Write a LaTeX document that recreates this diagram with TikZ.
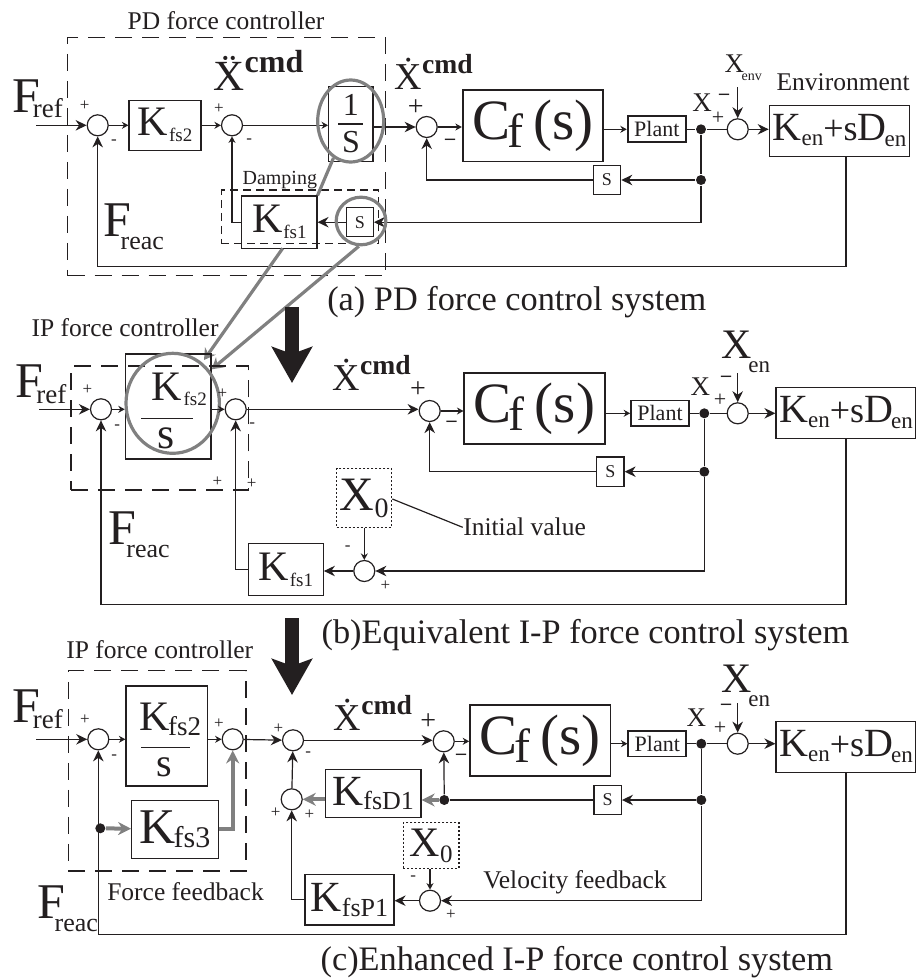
\documentclass[tikz,border=0pt]{standalone}
\usepackage{fontspec}
\setmainfont{Liberation Serif}
\usetikzlibrary{arrows.meta,shapes.geometric}
\definecolor{ink}{RGB}{35,31,32}
\definecolor{gry}{RGB}{128,128,128}
% big letter with a lowered subscript: [kern]{size}{letter}{sub size}{sub}{drop}
\newcommand{\sublab}[6][0pt]{\fontsize{#2}{#2}\selectfont #3\kern#1\raisebox{-#6pt}{\fontsize{#4}{#4}\selectfont #5}}
\newcommand{\cmdlab}[4]{\fontsize{#1}{#1}\selectfont #4{X}\raisebox{#3pt}{\fontsize{#2}{#2}\selectfont\bfseries cmd}}
\newcommand{\cflab}{\fontsize{57}{57}\selectfont C\kern-3pt\raisebox{-8pt}{\fontsize{48}{48}\selectfont f}\kern10pt(s)}
\newcommand{\kenlab}{\sublab{40}{K}{23}{en}{5}{\fontsize{36}{36}\selectfont+s}\sublab[-2pt]{40}{D}{23}{en}{6}}

\begin{document}
\begin{tikzpicture}[x=1pt, y=-1pt, color=ink, line width=1.2pt,
  sumj/.style={circle, draw, fill=white, minimum size=21pt, inner sep=0pt},
  dotj/.style={circle, fill=ink, minimum size=10pt, inner sep=0pt},
  block/.style={draw, inner sep=0pt},
  blockthick/.style={draw, line width=1.7pt, inner sep=0pt},
  ctrlbox/.style={draw, dash pattern=on 17pt off 10pt, inner sep=0pt},
  dampbox/.style={draw, dash pattern=on 8pt off 5pt, inner sep=0pt},
  initbox/.style={draw, dash pattern=on 2pt off 2pt, inner sep=0pt},
  sig/.style={-{Stealth[length=11pt,width=10.5pt]}},
  sigsm/.style={-{Stealth[length=6.5pt,width=7pt]}},
  wire/.style={line width=1.2pt},
  bigdown/.style={-{Stealth[length=36pt,width=40pt,inset=7pt]}, line width=14pt},
  gline/.style={line width=3.2pt, gry},
  garrow/.style={-{Stealth[length=11pt,width=13pt]}, line width=3.2pt, gry},
  gthick/.style={-{Stealth[length=13pt,width=13pt]}, line width=4pt, gry},
  gcirc/.style={ellipse, draw=gry, line width=3.2pt, inner sep=0pt},
  lab/.style={anchor=base west, inner sep=0pt},
  note/.style={lab, font=\fontsize{25.5}{25.5}\selectfont},
  capt/.style={lab, font=\fontsize{34.3}{34.3}\selectfont},
  plussm/.style={inner sep=0pt, font=\fontsize{17}{17}\selectfont},
  plusmd/.style={inner sep=0pt, font=\fontsize{22}{22}\selectfont},
  plusbg/.style={inner sep=0pt, font=\fontsize{28}{28}\selectfont},
  minbg/.style={inner sep=0pt, font=\fontsize{20}{20}\selectfont\bfseries},
]
\useasboundingbox (0,0) rectangle (916,978);

% ---- (a) PD force control ----
\node[sumj] (suma1) at (97.7,125.3) {};
\node[sumj] (suma2) at (232,125.3) {};
\node[sumj] (suma3) at (426.7,127) {};
\node[sumj] (suma4) at (737.7,129.3) {};
\node[block, minimum width=72pt, minimum height=50pt] (kfs2a) at (165,125.3) {\sublab[1pt]{42}{K}{19}{fs2}{6}};
\node[block, minimum width=44.3pt, minimum height=74.6pt] (onesa) at (350.8,124) {};
\node[inner sep=0pt, font=\fontsize{32}{32}\selectfont] (onea) at (350.8,105) {1};
\node[inner sep=0pt, font=\fontsize{32}{32}\selectfont] (essa) at (351,142) {S};
\draw[wire] (338,124) coordinate (barla) -- (363,124) coordinate (barra);
\node[blockthick, minimum width=140pt, minimum height=71.3pt] (cfa) at (532.7,125.7) {\cflab};
\node[blockthick, minimum width=58.3pt, minimum height=26pt, font=\fontsize{22}{22}\selectfont] (planta) at (656.8,129.3) {Plant};
\node[block, minimum width=140.4pt, minimum height=51.4pt] (kena) at (839.5,131) {\kenlab};
\node[dotj] (dota1) at (701,129.3) {};
\node[dotj] (dota2) at (701,180) {};
\node[block, minimum width=27.4pt, minimum height=29.3pt, font=\fontsize{18}{18}\selectfont] (sa) at (607,180) {S};
\node[block, minimum width=26.6pt, minimum height=29.3pt, font=\fontsize{18}{18}\selectfont] (sda) at (360,222.2) {S};
\node[block, minimum width=75.3pt, minimum height=52.3pt] (kfs1a) at (279.3,222.2) {\sublab[1pt]{42}{K}{19}{fs1}{6}};
\node[ctrlbox, minimum width=318pt, minimum height=238.4pt] (pdctrl) at (226.7,156.5) {};
\node[dampbox, minimum width=157pt, minimum height=53.3pt] (dampa) at (299.8,216.7) {};
\node[note] (pdlab) at (127,29.5) {PD force controller};
\node[lab, font=\fontsize{20}{20}\selectfont] (damplab) at (242,184) {Damping};
\node[note] (envlab) at (776,90.7) {Environment};
\node[lab] (frefa) at (12,112) {\sublab[-7.5pt]{50}{F}{27}{ref}{5}};
\node[lab] (freaca) at (103.3,236.7) {\sublab[-11pt]{50}{F}{26}{reac}{13}};
\node[lab] (xdda) at (213,90) {\cmdlab{43}{32}{18}{\"}};
\node[lab] (xda) at (394,89.3) {\cmdlab{38}{27.6}{16}{\.}};
\node[lab] (xenva) at (724,72.7) {\sublab[-2.5pt]{27}{X}{14}{env}{8}};
\node[lab] (xa) at (691.7,111.7) {\fontsize{27}{27}\selectfont X};
\node[capt] (capa) at (326.7,310) {(a) PD force control system};

\coordinate (ina) at (36,125.3);
\draw[sig] (ina) -- (suma1);
\draw[sigsm] (suma1) -- (kfs2a);
\draw[sigsm] (kfs2a) -- (suma2);
\draw[sigsm] (suma2) -- (onesa.west |- suma2);
\draw[sig] (onesa.east |- suma3) -- (suma3);
\draw[sigsm] (suma3) -- (suma3 -| cfa.west);
\draw[sigsm] (cfa.east |- planta) -- (planta);
\draw[wire] (planta) -- (dota1) -- (suma4);
\draw[sig] (suma4) -- (suma4 -| kena.west);
\coordinate (xina) at (737.7,87.3);
\draw[sig] (xina) -- (suma4);
\draw[wire] (dota1) -- (dota2);
\draw[sig] (dota2) -- (sa);
\draw[sig] (sa) -| (suma3);
\draw[sig] (dota2) |- (sda);
\draw[sig] (sda) -- (kfs1a);
\draw[sigsm] (kfs1a) -| (suma2);
\coordinate (fba) at (846,266.3);
\draw[sig] (fba |- kena.south) -- (fba) -| (suma1);

% ---- grey marks from (a) down to (b) ----
\node[gcirc, minimum width=66pt, minimum height=82pt] (gone) at (350.7,121) {};
\node[gcirc, minimum width=49.6pt, minimum height=47.6pt] (gsa) at (361,221) {};
\coordinate (gtip1) at (204,360);
\coordinate (gtip2) at (211.7,369.3);
\coordinate (gst1) at (282.7,248.3);
\draw[gline] (gone.245) -- (kfs1a.north east);
\draw[garrow] (gst1) -- (gtip1);
\draw[garrow] (gsa.265) -- (gtip2);

% ---- big arrows ----
\coordinate (dna1) at (292,307);
\coordinate (dna2) at (292,383);
\coordinate (dnb1) at (292,618);
\coordinate (dnb2) at (292,695);
\draw[bigdown] (dna1) -- (dna2);
\draw[bigdown] (dnb1) -- (dnb2);

% ---- (b) I-P force control ----
\node[sumj] (sumb1) at (101,409.3) {};
\node[sumj] (sumb2) at (235.7,409.3) {};
\node[sumj] (sumb3) at (429.7,411) {};
\node[sumj] (sumb4) at (737.7,413.3) {};
\node[sumj] (sumb5) at (364.3,571) {};
\node[block, minimum width=85.7pt, minimum height=105pt] (kfs2b) at (168.2,406.5) {};
\node[lab] (kfrb) at (150.7,400.7) {\sublab[2pt]{42}{K}{19}{fs2}{5}};
\node[lab, font=\fontsize{44}{44}\selectfont] (essb) at (157,448.3) {s};
\draw[wire] (141,418.3) coordinate (barlb) -- (192.7,418.3) coordinate (barrb);
\node[blockthick, minimum width=140.4pt, minimum height=71.3pt] (cfb) at (534.5,408.3) {\cflab};
\node[blockthick, minimum width=58pt, minimum height=25.7pt, font=\fontsize{22}{22}\selectfont] (plantb) at (660,413.3) {Plant};
\node[block, minimum width=140pt, minimum height=51.4pt] (kenb) at (846,413) {\kenlab};
\node[dotj] (dotb1) at (704.3,413.3) {};
\node[dotj] (dotb2) at (704.3,471.7) {};
\node[block, minimum width=27.3pt, minimum height=29.3pt, font=\fontsize{18}{18}\selectfont] (sb) at (610.4,471.7) {S};
\node[block, minimum width=75pt, minimum height=52.4pt] (kfs1b) at (285.8,569.5) {\sublab[1pt]{42}{K}{19}{fs1}{6}};
\node[initbox, minimum width=55pt, minimum height=58.6pt] (x0b) at (364.2,498) {\sublab{48}{X}{28}{0}{7}};
\node[ctrlbox, minimum width=177.3pt, minimum height=124pt] (ipctrlb) at (159.7,428) {};
\node[gcirc, minimum width=93.4pt, minimum height=100pt] (gfrac) at (172.7,403.3) {};
\node[note] (iplabb) at (31,336.7) {IP force controller};
\node[note] (initlab) at (462.7,535) {Initial value};
\node[lab] (frefb) at (15,397.3) {\sublab[-7pt]{50}{F}{27}{ref}{6}};
\node[lab] (freacb) at (108,544.3) {\sublab[-10pt]{50}{F}{26}{reac}{13}};
\node[lab] (xdb) at (332,390) {\cmdlab{38}{27.6}{16}{\.}};
\node[lab] (xenb) at (721,358.3) {\sublab[-3.6pt]{42}{X}{23}{en}{14}};
\node[lab] (xb) at (690,395.7) {\fontsize{27}{27}\selectfont X};
\node[capt] (capb) at (321,643) {(b)Equivalent I-P force control system};

\coordinate (inb) at (39,409.3);
\draw[sig] (inb) -- (sumb1);
\draw[sigsm] (sumb1) -- (sumb1 -| kfs2b.west);
\draw[sigsm] (sumb2 -| kfs2b.east) -- (sumb2);
\draw[sig] (sumb2) -- (sumb2 -| sumb3.west);
\draw[sigsm] (sumb3) -- (sumb3 -| cfb.west);
\draw[sigsm] (cfb.east |- plantb) -- (plantb);
\draw[wire] (plantb) -- (dotb1) -- (sumb4);
\draw[sig] (sumb4) -- (sumb4 -| kenb.west);
\coordinate (xinb) at (737.7,373.3);
\draw[sig] (xinb) -- (sumb4);
\draw[wire] (dotb1) -- (dotb2);
\draw[sig] (dotb2) -- (sb);
\draw[sig] (sb) -| (sumb3);
\draw[sig] (dotb2) |- (sumb5);
\draw[sig] (sumb5) -- (kfs1b.east |- sumb5);
\draw[sig] (kfs1b) -| (sumb2);
\draw[sigsm] (x0b.south -| sumb5) -- (sumb5);
\draw[wire] (x0b.east |- 391.7,499) -- (initlab.west |- 457.3,527.3);
\coordinate (fbb) at (846,604.3);
\draw[sig] (fbb |- kenb.south) -- (fbb) -| (sumb1);

% ---- (c) enhanced I-P force control ----
\node[sumj] (sumc1) at (98.3,739.3) {};
\node[sumj] (sumc2) at (232.7,739.3) {};
\node[sumj] (sumc3) at (293,740.3) {};
\node[sumj] (sumc4) at (291.7,799.3) {};
\node[sumj] (sumc5) at (443.7,741.3) {};
\node[sumj] (sumc6) at (430,900.7) {};
\node[sumj] (sumc7) at (737.7,743.7) {};
\node[block, minimum width=81.7pt, minimum height=100pt] (kfs2c) at (166.8,736) {};
\node[lab] (kfrc) at (139.3,730.7) {\sublab[-2pt]{42}{K}{27}{fs2}{5}};
\node[lab, font=\fontsize{40}{40}\selectfont] (essc) at (156,776.7) {s};
\draw[wire] (141,747.3) coordinate (barlc) -- (190,747.3) coordinate (barrc);
\node[block, minimum width=86.6pt, minimum height=58pt] (kfs3c) at (175,829.3) {\sublab[-2pt]{50}{K}{30}{fs3}{4}};
\node[block, minimum width=95.7pt, minimum height=48pt] (kfsd) at (373.2,793.7) {\sublab{43}{K}{26}{fsD1}{4}};
\node[block, minimum width=89pt, minimum height=50.7pt] (kfsp) at (349.5,899.7) {\sublab{43}{K}{26}{fsP1}{5}};
\node[initbox, minimum width=55.7pt, minimum height=45.6pt] (x0c) at (431.2,845.5) {\sublab{42}{X}{25}{0}{6}};
\node[blockthick, minimum width=140.3pt, minimum height=71.3pt] (cfc) at (540.2,740.4) {\cflab};
\node[blockthick, minimum width=58pt, minimum height=25.7pt, font=\fontsize{22}{22}\selectfont] (plantc) at (657.3,743.7) {Plant};
\node[block, minimum width=140pt, minimum height=51.4pt] (kenc) at (846,747) {\kenlab};
\node[dotj] (dotc1) at (701.3,743.7) {};
\node[dotj] (dotc2) at (701.3,800) {};
\node[dotj] (dotc3) at (444.3,800) {};
\node[dotj] (dotc4) at (100.3,828.3) {};
\node[block, minimum width=27.3pt, minimum height=29.3pt, font=\fontsize{18}{18}\selectfont] (sc) at (607.7,800) {S};
\node[ctrlbox, minimum width=177.7pt, minimum height=200.3pt] (ipctrlc) at (157.2,770.8) {};
\node[note] (iplabc) at (65.7,658.3) {IP force controller};
\node[note] (fflab) at (106.7,900.7) {Force feedback};
\node[note] (vflab) at (482.7,888.3) {Velocity feedback};
\node[lab] (frefc) at (12,722.3) {\sublab[-7.5pt]{50}{F}{27}{ref}{6}};
\node[lab] (freacc) at (36.7,918.3) {\sublab[-10.5pt]{50}{F}{26}{reac}{13}};
\node[lab] (xdc) at (333.3,730.7) {\cmdlab{38}{27.6}{16}{\.}};
\node[lab] (xenc) at (721,692.3) {\sublab[-3.6pt]{42}{X}{23}{en}{14}};
\node[lab] (xc) at (686,726.7) {\fontsize{27}{27}\selectfont X};
\node[capt] (capc) at (320,970) {(c)Enhanced I-P force control system};

\coordinate (inc) at (36,739.3);
\draw[sig] (inc) -- (sumc1);
\draw[sigsm] (sumc1) -- (sumc1 -| kfs2c.west);
\draw[sigsm] (sumc2 -| kfs2c.east) -- (sumc2);
\draw[sig] (sumc2) -- (sumc3);
\draw[sig] (sumc3) -- (sumc3 -| sumc5.west);
\draw[sigsm] (sumc5) -- (sumc5 -| cfc.west);
\draw[sigsm] (cfc.east |- plantc) -- (plantc);
\draw[wire] (plantc) -- (dotc1) -- (sumc7);
\draw[sig] (sumc7) -- (sumc7 -| kenc.west);
\coordinate (xinc) at (737.7,703.3);
\draw[sig] (xinc) -- (sumc7);
\draw[wire] (dotc1) -- (dotc2);
\draw[sig] (dotc2) -- (sc);
\draw[wire] (sc) -- (dotc3);
\draw[sig] (dotc3) -- (sumc5);
\draw[gthick] (dotc3) -- (kfsd.east |- dotc3);
\draw[gthick] (kfsd.west |- sumc4) -- (sumc4);
\draw[sig] (sumc4) -- (sumc3);
\draw[sig] (kfsp) -| (sumc4);
\draw[sig] (dotc2) |- (sumc6);
\draw[sig] (sumc6) -- (sumc6 -| kfsp.east);
\draw[sigsm] (x0c.south -| sumc6) -- (sumc6);
\draw[gthick] (dotc4) -- (kfs3c);
\coordinate (fbc) at (846,934.7);
\draw[sig] (fbc |- kenc.south) -- (fbc) -| (sumc1);
\draw[gthick] (kfs3c) -| (sumc2);

% ---- signs at the summing points ----
\foreach \x/\y [count=\n] in {84.7/106, 219/109, 87.3/390, 222.3/393.3, 217.3/481.3, 251.7/483.3, 385.3/586,
    85/720, 219/723.3, 278.3/728.3, 275.7/812.3, 309.3/814.3, 451/915}
  \node[plussm] (ps\n) at (\x,\y) {+};
\foreach \x/\y [count=\n] in {114/141.7, 249.3/140.7, 117.3/426.7, 252.3/425, 347.7/548.3,
    114.3/756.7, 308.3/754, 413.3/877.7}
  \node[plussm] (ms\n) at (\x,\y) {-};
\foreach \x/\y [count=\n] in {718/118, 720/400, 720/728.3}
  \node[plusmd] (pm\n) at (\x,\y) {+};
\foreach \x/\y [count=\n] in {724/96.7, 726/379.3, 726/706.7, 450/141.7, 451.7/424, 461/756.7}
  \node[minbg] (mb\n) at (\x,\y) {--};
\foreach \x/\y [count=\n] in {415.7/107.3, 418/389.3, 428.3/721.7}
  \node[plusbg] (pb\n) at (\x,\y) {+};

\end{tikzpicture}
\end{document}
